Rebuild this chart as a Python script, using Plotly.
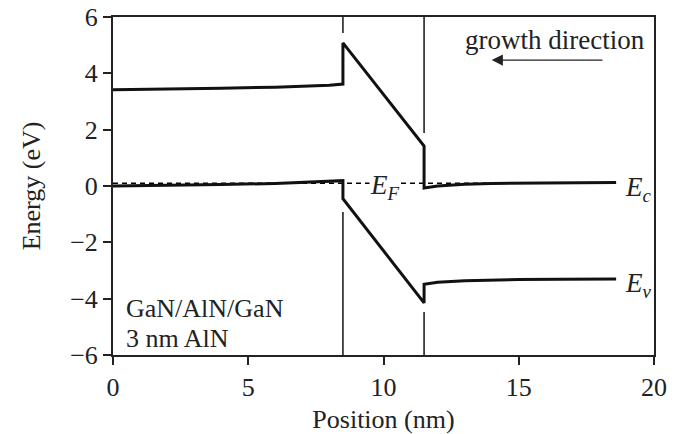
import plotly.graph_objects as go

# Band-edge profile of a GaN/AlN/GaN heterostructure (3 nm AlN barrier)
position = [0.0, 2.0, 4.0, 6.0, 7.0, 8.0, 8.5,
            8.5, 11.5,
            11.5, 12.0, 13.0, 14.0, 15.0, 16.5, 18.6]
ec = [3.42, 3.44, 3.47, 3.51, 3.54, 3.58, 3.62,
      5.08, 1.42,
      -0.07, 0.0, 0.06, 0.09, 0.10, 0.11, 0.12]
ev = [0.0, 0.02, 0.05, 0.09, 0.12, 0.16, 0.19,
      -0.45, -4.15,
      -3.49, -3.42, -3.36, -3.33, -3.32, -3.31, -3.30]

fermi_level = 0.10
fermi_span = [0.0, 18.6]

# Interface markers (x, segments of y) broken around the band edges
interfaces = {
    8.5: [(6.0, 5.43), (-0.92, -6.0)],
    11.5: [(6.0, 1.88), (-4.47, -6.0)],
}

x_ticks = [0, 5, 10, 15, 20]
y_ticks = [-6, -4, -2, 0, 2, 4, 6]

FONT = "Liberation Serif"
INK = "#222"
fig = go.Figure()

fig.add_trace(go.Scatter(x=fermi_span, y=[fermi_level, fermi_level], mode="lines",
                         line=dict(color="black", width=1.4, dash="5px,4px"),
                         showlegend=False, hoverinfo="skip"))

for xi, segs in interfaces.items():
    for y0, y1 in segs:
        fig.add_trace(go.Scatter(x=[xi, xi], y=[y0, y1], mode="lines",
                                 line=dict(color=INK, width=1.6),
                                 showlegend=False, hoverinfo="skip"))

for band in (ec, ev):
    fig.add_trace(go.Scatter(x=position, y=band, mode="lines",
                             line=dict(color="#111", width=3),
                             showlegend=False))

ann_font = dict(family=FONT, size=27, color=INK)
label_font = dict(family=FONT, size=26, color=INK)
annotations = [
    dict(x=16.33, y=5.2, text="growth direction", showarrow=False,
         font=ann_font, xanchor="center", yanchor="middle"),
    dict(x=14.0, y=4.47, ax=18.15, ay=4.47, axref="x", ayref="y",
         text="", showarrow=True, arrowhead=2, arrowsize=1.6,
         arrowwidth=1.4, arrowcolor=INK),
    dict(x=0.42, y=-4.36, text="GaN/AlN/GaN", showarrow=False,
         font=label_font, xanchor="left", yanchor="middle"),
    dict(x=0.42, y=-5.4, text="3 nm AlN", showarrow=False,
         font=label_font, xanchor="left", yanchor="middle"),
    dict(x=10.07, y=-0.02, text="<i>E</i><sub><i>F</i></sub>", showarrow=False,
         font=ann_font, xanchor="center", yanchor="middle",
         bgcolor="white", borderpad=0),
    dict(x=18.85, y=-0.1, text="<i>E</i><sub><i>c</i></sub>", showarrow=False,
         font=ann_font, xanchor="left", yanchor="middle"),
    dict(x=18.85, y=-3.5, text="<i>E</i><sub><i>v</i></sub>", showarrow=False,
         font=ann_font, xanchor="left", yanchor="middle"),
]

axis_common = dict(showline=True, linewidth=2, linecolor=INK, mirror=True,
                   ticks="outside", ticklen=8, tickwidth=2, tickcolor=INK,
                   showgrid=False, zeroline=False, automargin=False,
                   tickfont=dict(family=FONT, size=26, color=INK))

fig.update_layout(
    width=685, height=434,
    margin=dict(l=113, r=31, t=17, b=79),
    paper_bgcolor="white", plot_bgcolor="white",
    annotations=annotations,
    xaxis=dict(range=[0, 20], tickvals=x_ticks,
               title=dict(text="Position (nm)", font=dict(family=FONT, size=26, color=INK),
                          standoff=12),
               **axis_common),
    yaxis=dict(range=[-6, 6], tickvals=y_ticks,
               title=dict(text="Energy (eV)", font=dict(family=FONT, size=26, color=INK),
                          standoff=22),
               **axis_common),
)

fig.write_html("out.html")
